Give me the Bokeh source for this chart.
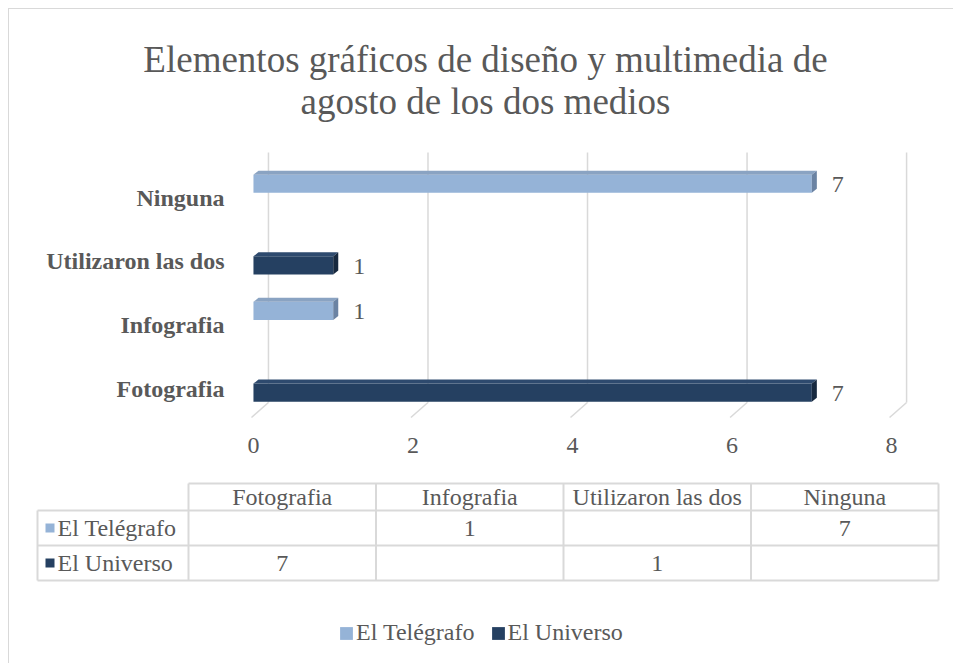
from bokeh.plotting import figure
from bokeh.layouts import column
from bokeh.models import Range1d, FixedTicker, Legend, LegendItem
from bokeh.core.properties import value
from bokeh.embed import file_html
from bokeh.resources import INLINE

# ---------------- data ----------------
categories = ["Fotografia", "Infografia", "Utilizaron las dos", "Ninguna"]
series_names = ["El Telégrafo", "El Universo"]
el_telegrafo = [None, 1, None, 7]
el_universo = [7, None, 1, None]
x_ticks = [0, 2, 4, 6, 8]
title_lines = ["Elementos gráficos de diseño y multimedia de", "agosto de los dos medios"]

# ---------------- style ----------------
FONT = "'Liberation Serif', 'Times New Roman', Times, serif"
TXT = "#595959"
GRID = "#d9d9d9"
W = 944
XR = (9, 9 + W)
series_data = [el_telegrafo, el_universo]
series_style = [
    dict(front="#95b3d7", top="#8aa3c2", side="#6b83a3", offset=0.22),
    dict(front="#254061", top="#2e4a6e", side="#17293f", offset=-0.065),
]
BAR_H = 0.285      # front face height (category units)
DX = 0.063         # 3D depth of bars (x units)
DY = 0.063         # 3D depth of bars (y units)
GD = 0.188         # gridline back-plane depth (x units)
Y_TOP, Y_FLOOR, Y_FRONT = 3.71, -0.22, -0.456

common = dict(toolbar_location=None, output_backend="svg", outline_line_color=None,
              frame_align=False)

# ---------------- title ----------------
p0 = figure(width=W, height=126, x_range=Range1d(*XR), y_range=Range1d(135, 9),
            min_border=0, x_axis_location=None, y_axis_location=None, **common)
p0.grid.visible = False
p0.text(x=[485] * len(title_lines), y=[59, 101], text=title_lines,
        text_font=value(FONT), text_font_size="37px", text_color=TXT,
        text_align="center", text_baseline="alphabetic")

# ---------------- bar chart ----------------
p1 = figure(width=W, height=345, x_range=Range1d(-0.15, 8.35), y_range=Range1d(-0.503, 3.742),
            min_border_left=232, min_border_right=W - 232 - 678, min_border_top=15,
            min_border_bottom=60, **common)
p1.xgrid.visible = False
p1.ygrid.visible = False

n = len(x_ticks)
gx = [t + GD for t in x_ticks]
p1.segment(x0=gx, y0=[Y_TOP] * n, x1=gx, y1=[Y_FLOOR] * n, line_color=GRID, line_width=1.5)
p1.segment(x0=gx, y0=[Y_FLOOR] * n, x1=[t - 0.025 for t in x_ticks], y1=[Y_FRONT] * n,
           line_color=GRID, line_width=1.5)

for vals, st in zip(series_data, series_style):
    ys, vs = [], []
    for i, v in enumerate(vals):
        if v is not None:
            ys.append(i + st["offset"])
            vs.append(v)
    bottoms = [y - BAR_H / 2 for y in ys]
    tops = [y + BAR_H / 2 for y in ys]
    p1.quad(left=[0] * len(vs), right=vs, bottom=bottoms, top=tops,
            fill_color=st["front"], line_color=None)
    p1.patches(xs=[[0, v, v + DX, DX] for v in vs],
               ys=[[t, t, t + DY, t + DY] for t in tops],
               fill_color=st["top"], line_color=None)
    p1.patches(xs=[[v, v + DX, v + DX, v] for v in vs],
               ys=[[b, b + DY, t + DY, t] for b, t in zip(bottoms, tops)],
               fill_color=st["side"], line_color=None)
    p1.text(x=[v + DX for v in vs], y=ys, text=[str(v) for v in vs],
            x_offset=15, y_offset=1, text_font=value(FONT), text_font_size="24px",
            text_color=TXT, text_align="left", text_baseline="middle")

p1.xaxis.ticker = FixedTicker(ticks=x_ticks)
p1.yaxis.ticker = FixedTicker(ticks=list(range(len(categories))))
p1.yaxis.major_label_overrides = {i: c for i, c in enumerate(categories)}
for ax in (p1.xaxis, p1.yaxis):
    ax.axis_line_color = None
    ax.major_tick_line_color = None
    ax.minor_tick_line_color = None
    ax.major_tick_out = 0
    ax.major_tick_in = 0
    ax.major_label_text_font = FONT
    ax.major_label_text_font_size = "24px"
    ax.major_label_text_color = TXT
p1.xaxis.major_label_standoff = 17
p1.yaxis.major_label_standoff = 17
p1.yaxis.major_label_text_font_style = "bold"

# ---------------- data table + legend ----------------
p2 = figure(width=W, height=183, x_range=Range1d(*XR), y_range=Range1d(663, 480),
            min_border=0, x_axis_location=None, y_axis_location=None, **common)
p2.grid.visible = False

TL, TLR, COLW = 37, 188, 187.5
col_edges = [TLR + COLW * k for k in range(len(categories) + 1)]
col_centers = [TLR + COLW * (k + 0.5) for k in range(len(categories))]
row_edges = [483, 510, 545, 580]
header_y = (row_edges[0] + row_edges[1]) / 2
row_y = [(row_edges[k + 1] + row_edges[k + 2]) / 2 for k in range(len(series_names))]

hx0 = [TLR] + [TL] * (len(row_edges) - 1)
hx1 = [col_edges[-1]] * len(row_edges)
p2.segment(x0=hx0, y0=row_edges, x1=hx1, y1=row_edges, line_color=GRID, line_width=2)
vx = [TL] + col_edges
vy0 = [row_edges[1]] + [row_edges[0]] * len(col_edges)
p2.segment(x0=vx, y0=vy0, x1=vx, y1=[row_edges[-1]] * len(vx), line_color=GRID, line_width=2)

p2.text(x=col_centers, y=[header_y] * len(categories), text=categories,
        text_font=value(FONT), text_font_size="24px", text_color=TXT,
        text_align="center", text_baseline="middle")
p2.text(x=[57] * len(series_names), y=row_y, text=series_names,
        text_font=value(FONT), text_font_size="24px", text_color=TXT,
        text_align="left", text_baseline="middle")

markers = []
for si, (vals, st) in enumerate(zip(series_data, series_style)):
    yc = row_y[si]
    r = p2.quad(left=[45], right=[54], top=[yc - 4.5], bottom=[yc + 4.5],
                fill_color=st["front"], line_color=None)
    markers.append(r)
    xs = [col_centers[ci] for ci, v in enumerate(vals) if v is not None]
    tx = [str(v) for v in vals if v is not None]
    p2.text(x=xs, y=[yc] * len(xs), text=tx,
            text_font=value(FONT), text_font_size="24px", text_color=TXT,
            text_align="center", text_baseline="middle")

legend = Legend(items=[LegendItem(label=nm, renderers=[r]) for nm, r in zip(series_names, markers)],
                orientation="horizontal", location=(329, 17), padding=0, margin=0,
                spacing=15, label_standoff=2, glyph_width=16, glyph_height=16,
                border_line_color=None, background_fill_alpha=0,
                label_text_font=FONT, label_text_font_size="24px", label_text_color=TXT)
p2.add_layout(legend)

layout = column(p0, p1, p2, margin=(8, 0, 0, 8),
                styles={"border-left": "1px solid #d9d9d9",
                        "border-top": "1px solid #d9d9d9"})

with open("out.html", "w") as f:
    f.write(file_html(layout, INLINE))
